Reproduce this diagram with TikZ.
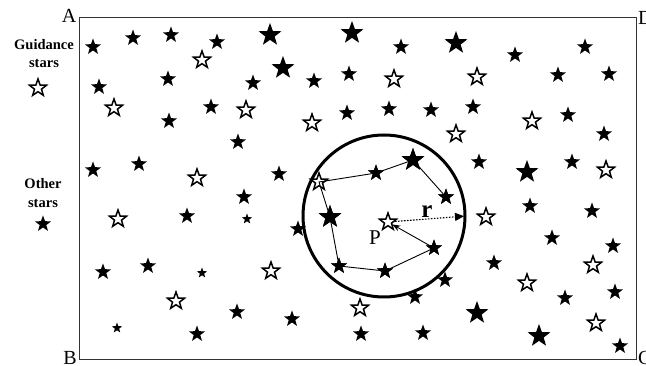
\documentclass[tikz,border=0pt]{standalone}
\usepackage{fontspec}
\setmainfont{Liberation Serif}
\usetikzlibrary{shapes.geometric,arrows.meta}
\tikzset{
  starbase/.style={star, star points=5, star point ratio=2.45, inner sep=0pt, outer sep=0pt},
  fstar/.style={starbase, fill=black, draw=none, minimum size=17pt},
  bstar/.style={starbase, fill=black, draw=none, minimum size=24pt},
  sstar/.style={starbase, fill=black, draw=none, minimum size=11pt},
  hstar/.style={starbase, draw=black, line width=1.5pt, minimum size=18pt},
  link/.style={draw=black, line width=0.9pt},
  frame/.style={draw=black!80, line width=1.3pt},
  corner/.style={font=\fontsize{20}{22}\selectfont, inner sep=0pt},
  legend/.style={font=\bfseries\fontsize{14.5}{16}\selectfont, inner sep=0pt, anchor=base},
}
\begin{document}
\begin{tikzpicture}[x=1pt,y=-1pt]
\useasboundingbox (0,0) rectangle (646,366);
% frame
\node[frame, rectangle, minimum width=557pt, minimum height=342pt, anchor=north west, inner sep=0pt] (box) at (79,17) {};
% corner labels
\node[corner, anchor=base] (lA) at (69,23) {A};
\node[corner, anchor=base west] (lD) at (638,25) {D};
\node[corner, anchor=base] (lB) at (70,365) {B};
\node[corner, anchor=base west] (lC) at (638,365) {C};
% legend
\node[legend] (t1) at (44,50) {Guidance};
\node[legend] (t2) at (44,68) {stars};
\node[hstar] (leg1) at (38,88) {};
\node[legend] (t3) at (43,189) {Other};
\node[legend] (t4) at (43,208) {stars};
\node[fstar] (leg2) at (43,224) {};
% circle
\node[circle, draw=black, line width=3pt, minimum size=162pt, inner sep=0pt] (circ) at (384,216) {};
% polygon stars
\node[hstar] (g1) at (319,182) {};
\node[hstar] (P) at (388,222) {};
\node[fstar] (q1) at (376,173) {};
\node[bstar] (q2) at (413,160) {};
\node[fstar] (q3) at (446,197) {};
\node[bstar] (q4) at (330,217) {};
\node[fstar] (q5) at (339,266) {};
\node[fstar] (q6) at (385,271) {};
\node[fstar] (q7) at (434,248) {};
% links
\draw[link] (q3.center) -- (q2.center) -- (q1.center) -- (g1.center) -- (q4.center) -- (q5.center) -- (q6.center) -- (q7.center);
\draw[link, -{Stealth[length=8pt,width=6pt]}, shorten >=5pt] (q7.center) -- (P.center);
\draw[line width=1.1pt, dash pattern=on 1.6pt off 1.4pt, -{Triangle[length=9pt,width=8pt]}, shorten <=7pt, shorten >=2.5pt] (P.center) -- (circ.east);
\node[font=\bfseries\fontsize{25}{26}\selectfont, inner sep=0pt, anchor=base] (rl) at (427,218) {r};
\node[font=\fontsize{21}{22}\selectfont, inner sep=0pt, anchor=base] (pl) at (375,245) {P};
% redraw filled polygon stars on top
\node[fstar] at (q1) {};
\node[bstar] at (q2) {};
\node[fstar] at (q3) {};
\node[bstar] at (q4) {};
\node[fstar] at (q5) {};
\node[fstar] at (q6) {};
\node[fstar] at (q7) {};
% other filled stars
\foreach \x/\y [count=\i] in {93/47,133/38,171/35,217/42,401/47,515/55,585/47,99/87,168/79,253/83,314/81,349/74,558/75,609/74,211/107,169/121,347/113,389/109,431/110,473/107,568/115,604/134,238/142,93/170,139/164,279/174,244/197,187/216,298/229,479/162,572/162,530/206,592/211,552/238,613/246,103/272,148/266,494/263,565/298,615/292,620/346,423/333,237/312,292/319,361/334,197/334,415/297,445/280}
  \node[fstar] (f\i) at (\x,\y) {};
% big stars
\foreach \x/\y [count=\i] in {270/35,352/33,283/68,456/43,527/172,477/313,539/336}
  \node[bstar] (b\i) at (\x,\y) {};
% small stars
\foreach \x/\y [count=\i] in {202/273,117/328,247/219}
  \node[sstar] (m\i) at (\x,\y) {};
% hollow stars
\foreach \x/\y [count=\i] in {202/60,114/108,246/110,312/123,394/79,477/77,532/121,456/134,606/170,197/178,118/219,486/217,593/265,527/283,596/323,271/271,176/301,360/308}
  \node[hstar] (h\i) at (\x,\y) {};
\end{tikzpicture}
\end{document}
